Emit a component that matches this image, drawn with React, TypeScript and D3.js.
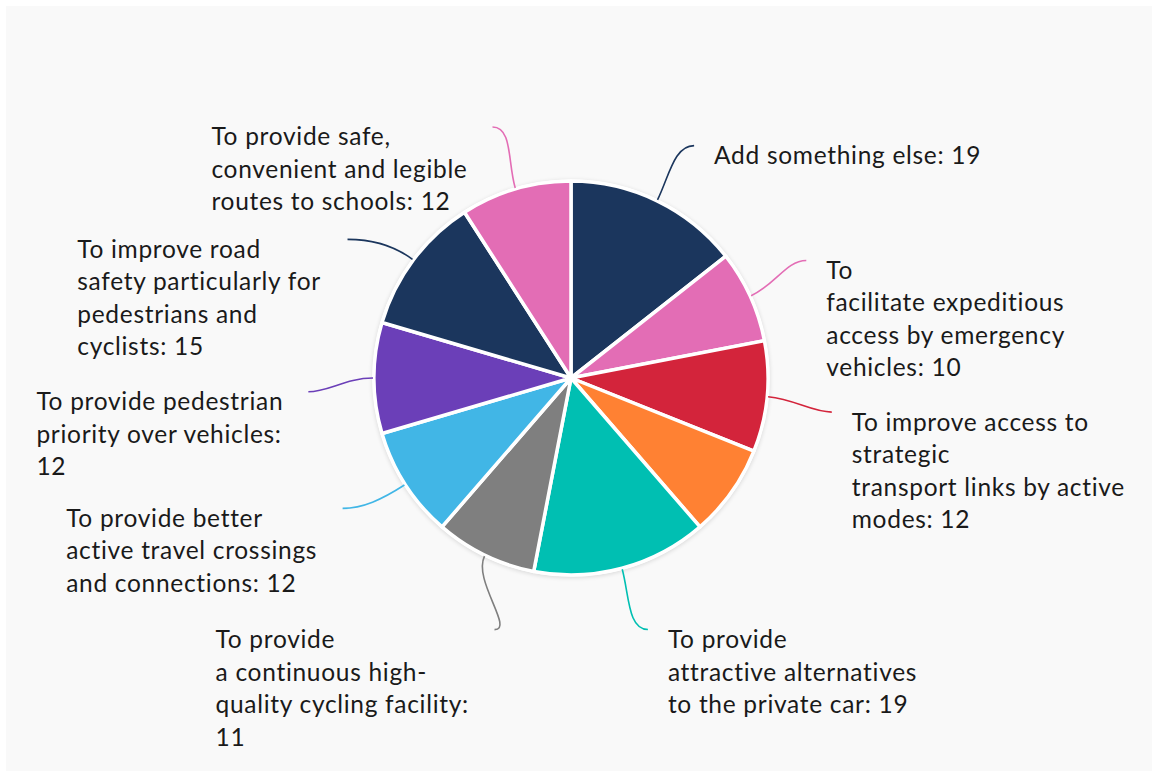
import * as d3 from "d3";

// slices, clockwise from 12 o'clock
const categories = [
  "Add something else",
  "To facilitate expeditious access by emergency vehicles",
  "To improve access to strategic transport links by active modes",
  "(no label shown)",
  "To provide attractive alternatives to the private car",
  "To provide a continuous high-quality cycling facility",
  "To provide better active travel crossings and connections",
  "To provide pedestrian priority over vehicles",
  "To improve road safety particularly for pedestrians and cyclists",
  "To provide safe, convenient and legible routes to schools",
];
const values = [19, 10, 12, 10, 19, 11, 12, 12, 15, 12];
const colors = [
  "#1b365d",
  "#e36db5",
  "#d3243b",
  "#ff8133",
  "#00bfb2",
  "#7f7f7f",
  "#41b6e6",
  "#6b3fb8",
  "#1b365d",
  "#e36db5",
];
// how the label text wraps, {v} is the value
const labelLines: string[][] = [
  ["Add something else: {v}"],
  ["To", "facilitate expeditious", "access by emergency", "vehicles: {v}"],
  ["To improve access to", "strategic", "transport links by active", "modes: {v}"],
  [],
  ["To provide", "attractive alternatives", "to the private car: {v}"],
  ["To provide", "a continuous high-", "quality cycling facility:", "{v}"],
  ["To provide better", "active travel crossings", "and connections: {v}"],
  ["To provide pedestrian", "priority over vehicles:", "{v}"],
  ["To improve road", "safety particularly for", "pedestrians and", "cyclists: {v}"],
  ["To provide safe,", "convenient and legible", "routes to schools: {v}"],
];
// small angle nudges (degrees) the label layout applied
const labelNudge = [2, -2, 2, 0, -2, -9, 3, -3, -5, -1];

const W = 1152;
const H = 771;
const cx = 571;
const cy = 378;
const R = 197;
const FONT = "Lato, 'Noto Sans', sans-serif";
const FS = 24.5;
const LS = 0.7;
const LH = 32.5;

let ctx: CanvasRenderingContext2D | null = null;
const textWidth = (s: string) => {
  if (!ctx) ctx = document.createElement("canvas").getContext("2d");
  ctx!.font = `${FS}px Lato`;
  return ctx!.measureText(s).width + s.length * LS;
};

const polar = (r: number, a: number): [number, number] => [
  cx + r * Math.sin(a),
  cy - r * Math.cos(a),
];

const App = () => {
  const pie = d3
    .pie<number>()
    .value((d) => d)
    .sort(null);
  const arcs = pie(values);
  const arcGen = d3.arc<d3.PieArcDatum<number>>().innerRadius(0).outerRadius(R);

  return (
    <svg
      width={W}
      height={H}
      style={{ position: "absolute", left: 0, top: 0 }}
      fontFamily={FONT}
    >
      <defs>
        <filter id="sh" x="-10%" y="-10%" width="120%" height="120%">
          <feGaussianBlur stdDeviation="2" />
        </filter>
      </defs>
      <rect x={6} y={6} width={W - 6} height={H - 6} fill="#f9f9f9" />
      <circle cx={cx} cy={cy + 1} r={R + 2} fill="#000" opacity={0.12} filter="url(#sh)" />
      <circle cx={cx} cy={cy} r={R + 1.5} fill="#fff" />
      <g transform={`translate(${cx},${cy})`}>
        {arcs.map((a, i) => (
          <path key={i} d={arcGen(a)!} fill={colors[i]} stroke="#fff" strokeWidth={3.5} strokeLinejoin="round" />
        ))}
      </g>
      {arcs.map((a, i) => {
        const lines = labelLines[i];
        if (!lines.length) return null;
        const mid = (a.startAngle + a.endAngle) / 2;
        const endA = mid + (labelNudge[i] * Math.PI) / 180;
        const right = Math.sin(endA) > 0;
        const side = right ? 1 : -1;
        const p0 = polar(R + 1, mid);
        const p1 = polar(R + 28, mid);
        const p3 = polar(R + 66, endA);
        const p2: [number, number] = [p3[0] - side * 20, p3[1]];
        const path = d3.path();
        path.moveTo(p0[0], p0[1]);
        path.bezierCurveTo(p1[0], p1[1], p2[0], p2[1], p3[0], p3[1]);
        const texts = lines.map((l) => l.replace("{v}", String(values[i])));
        const blockW = d3.max(texts, textWidth) ?? 0;
        const tx = right ? p3[0] + 20 : p3[0] - 25 - blockW;
        const ty = p3[1] + 9;
        return (
          <g key={i}>
            <path d={path.toString()} fill="none" stroke={colors[i]} strokeWidth={1.6} />
            <text fontSize={FS} letterSpacing={LS} fill="#1a1a1a">
              {texts.map((t, j) => (
                <tspan key={j} x={tx} y={ty + j * LH} dominantBaseline="central">
                  {t}
                </tspan>
              ))}
            </text>
          </g>
        );
      })}
    </svg>
  );
};

export default App;
